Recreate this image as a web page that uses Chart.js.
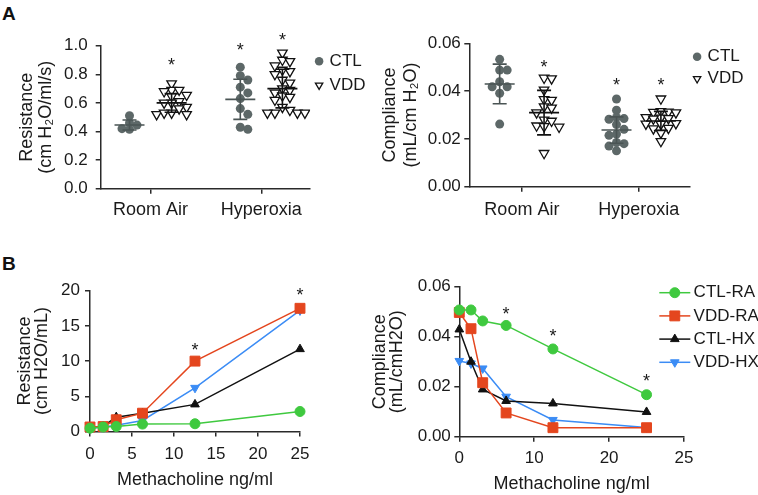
<!DOCTYPE html>
<html>
<head>
<meta charset="utf-8">
<script src="https://cdn.jsdelivr.net/npm/chart.js@4.4.0/dist/chart.umd.min.js"></script>
<style>
  body { margin: 0; background: #fff; width: 758px; height: 495px; position: relative; overflow: hidden; }
  canvas { position: absolute; }
  .tag { position: absolute; font: bold 19px/19px 'Liberation Sans', Arial, sans-serif; color: #111; }
</style>
</head>
<body>
<div class="tag" style="left:2px;top:4px">A</div>
<div class="tag" style="left:2px;top:254px">B</div>
<canvas id="resA" width="380" height="250" style="left:0;top:0"></canvas>
<canvas id="comA" width="388" height="250" style="left:370px;top:0"></canvas>
<canvas id="resB" width="380" height="245" style="left:0;top:250px"></canvas>
<canvas id="comB" width="408" height="245" style="left:350px;top:250px"></canvas>
<script>
const FONT = "'Liberation Sans', Arial, 'DejaVu Sans', sans-serif";
const TXT = '#1a1a1a';
const AXIS = '#2a2a2a';

// ---- panel A data ----
const groups = ['Room Air', 'Hyperoxia'];
const groupNames = ['CTL', 'VDD'];

// resistance, cm H2O/ml/s
const resCtlRA = [0.51, 0.445, 0.42, 0.415, 0.46];
const resVddRA = [0.735, 0.69, 0.68, 0.69, 0.655, 0.645, 0.61, 0.60, 0.60, 0.57, 0.56, 0.53, 0.52, 0.52, 0.53];
const resCtlHX = [0.85, 0.79, 0.76, 0.71, 0.67, 0.63, 0.56, 0.52, 0.43, 0.415];
const resVddHX = [0.95, 0.90, 0.89, 0.86, 0.83, 0.82, 0.80, 0.76, 0.74, 0.70, 0.69, 0.67, 0.65, 0.64, 0.62, 0.57, 0.55, 0.53, 0.53, 0.53, 0.53];
// order: CTL-RA, VDD-RA, CTL-HX, VDD-HX
const resMean = [0.445, 0.60, 0.625, 0.70];
const resSD = [0.035, 0.065, 0.14, 0.135];
const resStars = [null, 0.895, 1.0, 1.07];
const resTicks = ['0.0', '0.2', '0.4', '0.6', '0.8', '1.0'];

// compliance, mL/cm H2O
const comCtlRA = [0.0533, 0.0488, 0.0488, 0.0439, 0.0418, 0.0418, 0.0391, 0.0262];
const comVddRA = [0.0455, 0.0452, 0.0405, 0.0365, 0.0362, 0.0335, 0.0330, 0.0310, 0.0280, 0.0275, 0.0255, 0.0252, 0.0250, 0.0140];
const comCtlHX = [0.0367, 0.0320, 0.0290, 0.0285, 0.0282, 0.0260, 0.0240, 0.0220, 0.0215, 0.0185, 0.0180, 0.0170, 0.0150];
const comVddHX = [0.0368, 0.0315, 0.0313, 0.0312, 0.0310, 0.0290, 0.0288, 0.0286, 0.0284, 0.0265, 0.0263, 0.0262, 0.0245, 0.0243, 0.0225, 0.0190];
const comMean = [0.043, 0.031, 0.0237, 0.0275];
const comSD = [0.0083, 0.0093, 0.0055, 0.004];
const comStars = [null, 0.0516, 0.0444, 0.0444];
const comTicks = ['0.00', '0.02', '0.04', '0.06'];

// ---- panel B data ----
const dose = [0, 1.5625, 3.125, 6.25, 12.5, 25];
const seriesNames = ['CTL-RA', 'VDD-RA', 'CTL-HX', 'VDD-HX'];
const resCtlRaB = [0.47, 0.64, 0.71, 1.05, 1.1, 2.84];
const resVddRaB = [0.64, 0.70, 1.67, 2.6, 10.0, 17.5];
const resCtlHxB = [0.50, 0.75, 2.04, 2.6, 3.85, 11.7];
const resVddHxB = [0.45, 0.65, 0.90, 1.57, 6.2, 17.2];
const resStarsB = [[12.5, 12.1], [25, 20.0]];
const resTicksB = ['0', '5', '10', '15', '20'];
const doseTicksB1 = ['0', '5', '10', '15', '20', '25'];

const comCtlRaB = [0.0507, 0.0507, 0.0463, 0.0445, 0.0351, 0.0168];
const comVddRaB = [0.0497, 0.0432, 0.0216, 0.0095, 0.0036, 0.0036];
const comCtlHxB = [0.0429, 0.0300, 0.0189, 0.0143, 0.0133, 0.0099];
const comVddHxB = [0.0303, 0.0293, 0.0273, 0.0160, 0.0067, 0.0037];
const comStarsB = [[6.25, 0.0507], [12.5, 0.042], [25, 0.024]];
const comTicksB = ['0.00', '0.02', '0.04', '0.06'];
const doseTicksB2 = ['0', '10', '20', '25'];   // the last tick sits at 30 in the original

// ---- plugins ----
// spread points of one group sideways so they don't overlap (pixel space)
const swarm = {
  id: 'swarm',
  afterDatasetsUpdate(chart, args, opts) {
    chart.data.datasets.forEach((ds, di) => {
      const pts = chart.getDatasetMeta(di).data;
      const byGroup = {};
      pts.forEach((p, i) => {
        const k = ds.data[i].x;
        (byGroup[k] = byGroup[k] || []).push(p);
      });
      Object.values(byGroup).forEach(list => {
        const placed = [];
        list.slice().sort((a, b) => a.y - b.y).forEach(p => {
          const cx = p.x;
          for (let k = 0; k < 40; k++) {
            const nx = cx + Math.ceil(k / 2) * opts.gapX * (k % 2 ? 1 : -1);
            const free = placed.every(q => Math.abs(q.x - nx) >= opts.gapX || Math.abs(q.y - p.y) >= opts.gapY);
            if (free) { p.x = nx; break; }
          }
          placed.push(p);
        });
      });
    });
  }
};

// mean line with +/- SD whiskers
const meanSd = {
  id: 'meanSd',
  afterDatasetsDraw(chart) {
    const { ctx, scales: { x, y } } = chart;
    chart.data.datasets.forEach(ds => {
      if (!ds.stats) return;
      ds.stats.centers.forEach((c, g) => {
        const px = x.getPixelForValue(c);
        const m = ds.stats.mean[g], s = ds.stats.sd[g];
        const ym = y.getPixelForValue(m), yt = y.getPixelForValue(m + s), yb = y.getPixelForValue(m - s);
        ctx.save();
        ctx.strokeStyle = ds.stats.color;
        ctx.lineWidth = 1.6;
        ctx.beginPath();
        ctx.moveTo(px - 15, ym); ctx.lineTo(px + 15, ym);
        ctx.moveTo(px, yt); ctx.lineTo(px, yb);
        ctx.moveTo(px - 7, yt); ctx.lineTo(px + 7, yt);
        ctx.moveTo(px - 7, yb); ctx.lineTo(px + 7, yb);
        ctx.stroke();
        ctx.restore();
      });
    });
  }
};

// significance asterisks, placed in data units
const stars = {
  id: 'stars',
  afterDraw(chart, args, opts) {
    const { ctx, scales: { x, y } } = chart;
    ctx.save();
    ctx.fillStyle = TXT;
    ctx.font = '18px ' + FONT;
    ctx.textAlign = 'center';
    ctx.textBaseline = 'alphabetic';
    opts.points.forEach(([vx, vy]) => {
      ctx.fillText('*', x.getPixelForValue(vx), y.getPixelForValue(vy) + 10);
    });
    ctx.restore();
  }
};

// legend with a line through the marker
const lineLegend = {
  id: 'lineLegend',
  afterDraw(chart, args, o) {
    const ctx = chart.ctx;
    chart.data.datasets.forEach((ds, i) => {
      const y = o.top + i * o.gap;
      ctx.save();
      ctx.strokeStyle = ds.borderColor;
      ctx.lineWidth = ds.borderWidth;
      ctx.beginPath();
      ctx.moveTo(o.left, y);
      ctx.lineTo(o.left + o.length, y);
      ctx.stroke();
      ctx.fillStyle = ds.pointBackgroundColor;
      ctx.strokeStyle = ds.pointBorderColor;
      ctx.lineWidth = 1;
      Chart.helpers.drawPoint(ctx, { pointStyle: ds.pointStyle, rotation: ds.pointRotation || 0, radius: ds.pointRadius, borderWidth: 1 },
        o.left + o.length / 2, y);
      ctx.fillStyle = TXT;
      ctx.font = '17px ' + FONT;
      ctx.textBaseline = 'middle';
      ctx.fillText(ds.label, o.left + o.length + o.textGap, y);
      ctx.restore();
    });
  }
};

// ---- scale helpers ----
function axisLines() {
  return {
    grid: { display: true, drawOnChartArea: false, drawTicks: true, tickLength: 5, color: AXIS, lineWidth: 1.5 },
    border: { display: true, color: AXIS, width: 1.5 }
  };
}

function yScale(min, max, step, labels, title, t) {
  return Object.assign({
    type: 'linear', min: min, max: max,
    ticks: { stepSize: step, color: TXT, padding: t.tickPad, font: { family: FONT, size: 17 },
      callback: (v, i) => labels[i] },
    title: { display: true, text: title, color: TXT, font: { family: FONT, size: 18, lineHeight: t.lh },
      padding: { top: t.titlePad, bottom: 0 } },
    afterFit: s => { s.width = t.width; }
  }, axisLines());
}

function groupScale(t) {
  return Object.assign({
    type: 'linear', min: 0.55, max: 2.44,
    afterBuildTicks: s => { s.ticks = groups.map((g, i) => ({ value: i + 1 })); },
    ticks: { color: TXT, padding: t.tickPad, autoSkip: false, maxRotation: 0, font: { family: FONT, size: 18 },
      callback: (v, i) => groups[i] },
    afterFit: s => { s.height = t.height; }
  }, axisLines());
}

function doseScale(max, step, labels, t) {
  return Object.assign({
    type: 'linear', min: 0, max: max,
    ticks: { stepSize: step, color: TXT, padding: t.tickPad, maxRotation: 0, font: { family: FONT, size: 17 },
      callback: (v, i) => labels[i] },
    title: { display: true, text: 'Methacholine ng/ml', color: TXT, font: { family: FONT, size: 18 },
      padding: { top: 0, bottom: t.titlePad } },
    afterFit: s => { s.height = t.height; }
  }, axisLines());
}

// ---- panel A charts ----
const SHIFT = 0.19;   // CTL left of the group tick, VDD right of it

function scatterSets(ctlRA, ctlHX, vddRA, vddHX, mean, sd) {
  const pts = (arr, cx) => arr.map(v => ({ x: cx, y: v }));
  return [
    {
      label: groupNames[0],
      data: pts(ctlRA, 1 - SHIFT).concat(pts(ctlHX, 2 - SHIFT)),
      pointStyle: 'circle', pointRadius: 4.5, pointBorderWidth: 0,
      backgroundColor: '#5d6868', borderColor: '#5d6868', borderWidth: 0,
      stats: { centers: [1 - SHIFT, 2 - SHIFT], mean: [mean[0], mean[2]], sd: [sd[0], sd[2]], color: '#4a5454' }
    },
    {
      label: groupNames[1],
      data: pts(vddRA, 1 + SHIFT).concat(pts(vddHX, 2 + SHIFT)),
      pointStyle: 'triangle', rotation: 180, pointRadius: 5.5, pointBorderWidth: 1.3,
      backgroundColor: '#ffffff', borderColor: '#111111', borderWidth: 1.3,
      stats: { centers: [1 + SHIFT, 2 + SHIFT], mean: [mean[1], mean[3]], sd: [sd[1], sd[3]], color: '#111111' }
    }
  ];
}

function starPairsA(list) {
  const cx = [1 - SHIFT, 1 + SHIFT, 2 - SHIFT, 2 + SHIFT];
  return list.map((v, i) => [cx[i], v]).filter(p => p[1] != null);
}

function panelA(id, sets, yOpts, xOpts, starList, legendPad, pad) {
  return new Chart(document.getElementById(id), {
    type: 'scatter',
    data: { datasets: sets },
    options: {
      responsive: false, animation: false, events: [],
      layout: { padding: pad },
      scales: { x: xOpts, y: yOpts },
      plugins: {
        tooltip: { enabled: false },
        legend: {
          position: 'right', align: 'start',
          labels: { usePointStyle: true, boxWidth: 4, boxHeight: 6, padding: legendPad, color: TXT,
            font: { family: FONT, size: 17 } }
        },
        swarm: { gapX: 7.5, gapY: 6 },
        stars: { points: starPairsA(starList) }
      }
    },
    plugins: [swarm, meanSd, stars]
  });
}

panelA('resA',
  scatterSets(resCtlRA, resCtlHX, resVddRA, resVddHX, resMean, resSD),
  yScale(0, 1.0, 0.2, resTicks, ['Resistance', '(cm H\u2082O/ml/s)'], { tickPad: 8, lh: 1.08, titlePad: 17, width: 100.7 }),
  groupScale({ tickPad: 5.5, height: 61.3 }),
  resStars, 7, { top: 45.7, left: 0, right: 4.5, bottom: 0 });

panelA('comA',
  scatterSets(comCtlRA, comCtlHX, comVddRA, comVddHX, comMean, comSD),
  yScale(0, 0.06, 0.02, comTicks, ['Compliance', '(mL/cm H\u2082O)'], { tickPad: 3.5, lh: 1.15, titlePad: 9.5, width: 99.3 }),
  groupScale({ tickPad: 7.5, height: 63.3 }),
  comStars, 5, { top: 43.3, left: 0, right: 4.5, bottom: 0 });

// ---- panel B charts ----
const lineColors = ['#3fc93f', '#e4461e', '#111111', '#3b8cf5'];
const markerStyles = [
  { pointStyle: 'circle', pointRadius: 5, pointRotation: 0 },
  { pointStyle: 'rect', pointRadius: 7, pointRotation: 0 },
  { pointStyle: 'triangle', pointRadius: 5, pointRotation: 0 },
  { pointStyle: 'triangle', pointRadius: 5, pointRotation: 180 }
];

function lineSets(seriesList) {
  return seriesList.map((vals, i) => Object.assign({
    label: seriesNames[i],
    data: vals.map((v, j) => ({ x: dose[j], y: v })),
    borderColor: lineColors[i], borderWidth: 1.5,
    pointBackgroundColor: lineColors[i], pointBorderColor: lineColors[i], pointBorderWidth: 1,
    showLine: true, tension: 0, clip: false
  }, markerStyles[i]));
}

function panelB(id, sets, xOpts, yOpts, starList, pad, legend) {
  const plugins = [stars];
  if (legend) plugins.push(lineLegend);
  return new Chart(document.getElementById(id), {
    type: 'scatter',
    data: { datasets: sets },
    options: {
      responsive: false, animation: false, events: [],
      layout: { padding: pad },
      scales: { x: xOpts, y: yOpts },
      plugins: {
        tooltip: { enabled: false },
        legend: { display: false },
        stars: { points: starList },
        lineLegend: legend || {}
      }
    },
    plugins: plugins
  });
}

panelB('resB',
  lineSets([resCtlRaB, resVddRaB, resCtlHxB, resVddHxB]),
  doseScale(25, 5, doseTicksB1, { tickPad: 7.3, titlePad: 4.2, height: 63.5 }),
  yScale(0, 20, 5, resTicksB, ['Resistance', '(cm H2O/mL)'], { tickPad: 5, lh: 0.95, titlePad: 16.5, width: 90 }),
  resStarsB, { top: 40.7, left: 0, right: 80, bottom: 0 }, null);

panelB('comB',
  lineSets([comCtlRaB, comVddRaB, comCtlHxB, comVddHxB]),
  doseScale(30, 10, doseTicksB2, { tickPad: 6.4, titlePad: 0, height: 58.3 }),
  yScale(0, 0.06, 0.02, comTicksB, ['Compliance', '(mL/cmH2O)'], { tickPad: 3.5, lh: 0.95, titlePad: 21.5, width: 109.3 }),
  comStarsB, { top: 36.7, left: 0, right: 74, bottom: 0 },
  { left: 309.3, length: 31, top: 42.7, gap: 23.2, textGap: 3.3 });
</script>
</body>
</html>
